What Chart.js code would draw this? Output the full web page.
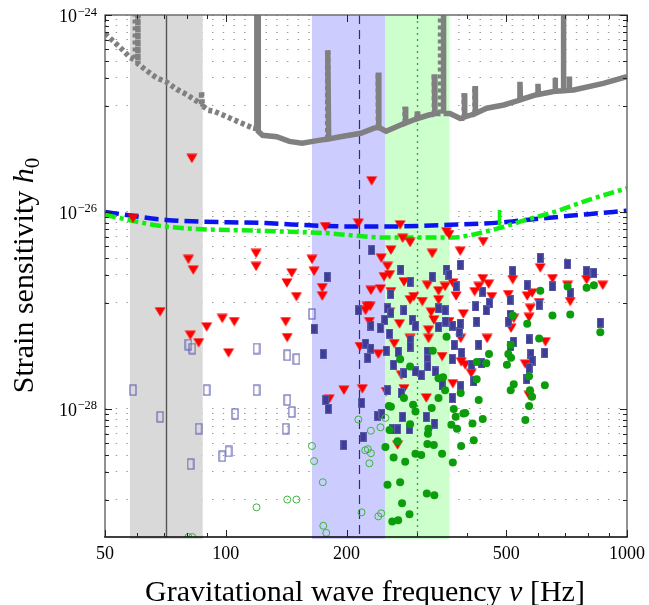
<!DOCTYPE html>
<html>
<head>
<meta charset="utf-8">
<script src="https://cdn.jsdelivr.net/npm/chart.js@4.4.0/dist/chart.umd.min.js"></script>
<style>
  html, body { margin: 0; padding: 0; background: #fff; }
  #c { display: block; }
</style>
</head>
<body>
<canvas id="c" width="649" height="605" style="width:649px;height:605px"></canvas>
<script>
// Strain upper limits for known pulsars against detector sensitivity

const xMajorTicks = [50, 100, 200, 500, 1000];
const xMinorTicks = [60, 70, 80, 90, 300, 400, 600, 700, 800, 900];
const yMajorTicks = [1e-24, 1e-26, 1e-28];
const yMajorLabels = ["\u221224", "\u221226", "\u221228"];
const yMinorTicks = [
  8.9e-25, 7.8e-25, 6.7e-25, 5.6e-25, 4.5e-25, 3.4e-25, 2.3e-25, 1.2e-25,
  8.9e-27, 7.8e-27, 6.7e-27, 5.6e-27, 4.5e-27, 3.4e-27, 2.3e-27, 1.2e-27,
  8.9e-29, 7.8e-29, 6.7e-29, 5.6e-29, 4.5e-29, 3.4e-29, 2.3e-29, 1.2e-29
];

// shaded frequency bands [lo, hi] in Hz and the marker lines inside them
const bandRanges = [[57.7, 87.6], [164, 250], [250, 361]];
const bandLines = [71, 215, 300];

// detector noise curve (gray), with spectral line spikes
const sensitivity = [
  [50, 6.5e-25], [52.5, 5.4e-25], [55.4, 4.4e-25], [57.7, 3.7e-25], [59.4, 3.5e-25],
  [59.5, 1.5e-24], [60.3, 1.5e-24], [60.4, 3.2e-25], [61, 3.1e-25], [64, 2.66e-25],
  [67.2, 2.3e-25], [71, 2.1e-25], [75.5, 1.76e-25], [80, 1.55e-25], [86.2, 1.27e-25],
  [87, 1.25e-25], [87, 1.67e-25], [87.4, 1.2e-25], [90.4, 1.08e-25], [93.6, 1.05e-25],
  [103, 8.9e-26], [112.5, 7.6e-26], [117, 7.1e-26], [119.5, 7.0e-26], [119.5, 1.5e-24],
  [120.5, 1.5e-24], [120.5, 6.6e-26], [123.5, 6.0e-26], [134, 5.8e-26], [144, 5.2e-26],
  [155, 5.0e-26], [169, 5.3e-26], [179.5, 5.5e-26], [179.5, 4.4e-25], [180.5, 5.5e-26],
  [193, 5.8e-26], [217, 6.3e-26], [234, 7.1e-26], [240, 7.2e-26], [240, 2.6e-25],
  [240.7, 7.2e-26], [251, 6.6e-26], [278, 7.9e-26], [280, 8.0e-26], [280, 1.17e-25],
  [280.8, 8.0e-26], [300, 8.9e-26], [300, 1.05e-25], [300.8, 8.9e-26], [322, 9.7e-26],
  [331, 9.8e-26], [331, 2.5e-25], [332, 1.0e-25], [343, 1.0e-25], [343, 1.5e-24],
  [349, 1.5e-24], [349, 1.0e-25], [362, 1.0e-25], [384, 8.9e-26], [393, 9.0e-26],
  [393, 1.6e-25], [394, 9.2e-26], [410, 9.7e-26], [418, 1.0e-25], [418, 1.9e-25],
  [419, 1.0e-25], [447, 1.13e-25], [493, 1.22e-25], [541, 1.37e-25], [541, 2.1e-25],
  [542.5, 1.38e-25], [595, 1.55e-25], [600, 1.56e-25], [600, 2.0e-25], [601.5, 1.56e-25],
  [656, 1.67e-25], [662, 1.68e-25], [662, 2.3e-25], [663.5, 1.68e-25], [693, 1.7e-25],
  [693, 1.5e-24], [696, 1.5e-24], [696, 1.7e-25], [718, 1.72e-25], [718, 2.37e-25],
  [719.5, 1.72e-25], [736, 1.73e-25], [873, 2.02e-25], [1000, 2.37e-25]
];

// projected sensitivity curves
const blueCurve = [
  [50, 1.0e-26], [71, 8.3e-27], [126, 7.7e-27], [177, 7.2e-27], [250, 7.1e-27],
  [362, 7.4e-27], [480, 7.8e-27], [560, 8.3e-27], [800, 9.5e-27], [1000, 1.03e-26]
];
const greenCurve = [
  [50, 9.3e-27], [71, 7.1e-27], [126, 6.4e-27], [177, 6.1e-27], [250, 5.5e-27],
  [362, 5.5e-27], [470, 6.7e-27], [560, 8.3e-27], [660, 1.0e-26], [800, 1.32e-26],
  [1000, 1.74e-26]
];
const greenGlitch = [[481, 7.3e-27], [481, 1.05e-26]];

// pulsar results
const redTriangles = [
  [82.3, 3.5e-26], [231, 2.07e-26], [58.7, 8.6e-27], [80.7, 3.3e-27], [83, 2.57e-27],
  [119, 3.8e-27], [119, 2.8e-27], [146, 2.4e-27], [142, 1.9e-27], [164, 3.3e-27],
  [166, 2.5e-27], [177, 7.1e-27], [150, 1.38e-27], [174, 1.7e-27], [174, 1.4e-27],
  [68.6, 9.7e-28], [81.6, 5.6e-28], [85.6, 4.7e-28], [89.6, 6.8e-28], [98, 8.3e-28],
  [105, 7.7e-28], [101.6, 3.7e-28], [141, 7.7e-28], [142.3, 5.3e-28],
  [214, 7.7e-27], [272, 7.4e-27], [355, 6.3e-27], [360, 5.9e-27], [276, 5.4e-27],
  [288, 4.9e-27], [258, 4.1e-27], [327, 3.8e-27], [384, 4.0e-27], [244, 3.4e-27],
  [253, 2.8e-27], [256, 2.3e-27], [248, 2.2e-27], [278, 1.95e-27], [318, 1.8e-27],
  [339, 1.58e-27], [352, 1.75e-27], [368, 1.9e-27], [375, 1.4e-27], [230, 1.6e-27],
  [243, 1.65e-27], [258, 1.55e-27], [294, 1.38e-27], [309, 1.23e-27], [288, 1.28e-27],
  [339, 1.28e-27], [225, 1.1e-27], [229, 1.1e-27], [223, 1.0e-27], [325, 9.6e-28],
  [256, 9.6e-28], [330, 8.0e-28], [271, 7.3e-28], [228, 7.7e-28], [320, 6.3e-28],
  [360, 7.7e-28], [385, 5.2e-28], [320, 5.2e-28], [288, 5.2e-28], [263, 4.6e-28],
  [216, 4.3e-28], [240, 3.6e-28], [346, 3.4e-28], [274, 2.2e-28], [386, 3.0e-28],
  [438, 5.0e-27], [608, 2.7e-27], [519, 2.05e-27], [652, 2.1e-27], [711, 1.8e-27],
  [793, 2.05e-27], [870, 1.8e-27], [437, 2.1e-27], [452, 1.85e-27], [417, 1.55e-27],
  [427, 1.75e-27], [460, 1.38e-27], [506, 1.45e-27], [564, 1.4e-27], [580, 1.5e-27],
  [604, 1.2e-27], [722, 1.23e-27], [574, 1.05e-27], [570, 8.5e-28], [522, 8.3e-28],
  [514, 6.6e-28], [448, 5.2e-28], [626, 4.8e-28], [391, 9.2e-28], [395, 2.8e-28],
  [409, 2.3e-28], [558, 2.85e-28],
  [197, 1.55e-28], [219, 1.6e-28], [181, 1.26e-28], [251, 1.5e-28], [278, 1.6e-28],
  [316, 1.29e-28], [368, 1.8e-28], [268, 4.3e-29], [570, 1.37e-28]
];

const filledSquares = [
  [231, 4.1e-27], [179, 2.2e-27], [273, 2.6e-27], [327, 2.2e-27], [355, 2.6e-27],
  [360, 2.3e-27], [375, 1.75e-27], [384, 2.9e-27], [288, 1.95e-27], [258, 1.47e-27],
  [214, 1.0e-27], [253, 1.05e-27], [258, 9.5e-28], [278, 1.0e-27], [339, 1.05e-27],
  [352, 1.0e-27], [249, 8.0e-28], [292, 8.0e-28], [297, 7.0e-28], [230, 7.0e-28],
  [243, 6.6e-28], [256, 5.8e-28], [339, 6.8e-28], [353, 7.7e-28], [368, 7.0e-28],
  [382, 6.0e-28], [166, 6.5e-28], [288, 5.0e-28], [288, 4.3e-28], [223, 4.6e-28],
  [230, 4.1e-28], [226, 3.3e-28], [251, 3.9e-28], [269, 3.8e-28], [318, 3.8e-28],
  [318, 3.2e-28], [262, 2.8e-28], [278, 2.3e-28], [297, 2.4e-28], [307, 2.2e-28],
  [319, 2.7e-28], [333, 2.4e-28], [367, 3.2e-28], [387, 3.7e-28], [175, 3.6e-28],
  [371, 4.45e-28], [384, 7.3e-28],
  [608, 3.4e-27], [711, 2.95e-27], [793, 2.5e-27], [827, 2.4e-27], [519, 2.5e-27],
  [564, 1.8e-27], [652, 1.75e-27], [722, 1.5e-27], [437, 1.55e-27], [511, 1.28e-27],
  [454, 1.18e-27], [420, 1.1e-27], [446, 1.0e-27], [604, 1.14e-27], [511, 9.0e-28],
  [507, 7.7e-28], [422, 7.7e-28], [858, 7.5e-28], [570, 5.1e-28], [521, 4.8e-28],
  [513, 4.35e-28], [427, 4.5e-28], [624, 3.7e-28], [576, 3.6e-28], [580, 3.1e-28],
  [434, 2.9e-28], [410, 2.8e-28], [570, 2.6e-28], [563, 2.0e-28],
  [177.5, 1.23e-28], [180, 1.0e-28], [218, 1.15e-28], [239, 8.5e-29], [245, 8.9e-29],
  [220, 5.2e-29], [197, 4.3e-29], [260, 6.2e-29], [268, 6.2e-29], [276, 8.3e-29],
  [287, 6.2e-29], [316, 8.3e-29], [331, 7.1e-29], [253, 1.55e-28], [274, 1.45e-28],
  [346, 1.74e-28], [367, 1.29e-28], [385, 1.7e-28], [415, 1.9e-28]
];

const openSquares = [
  [80.7, 4.5e-28], [82.5, 4.1e-28], [119.3, 4.1e-28], [142.3, 3.5e-28], [150, 3.2e-28],
  [164, 9.2e-28], [58.7, 1.55e-28], [89.6, 1.55e-28], [119.3, 1.55e-28], [142.3, 1.23e-28],
  [146, 9.3e-29], [68.6, 8.3e-29], [105.5, 8.9e-29], [85.6, 6.3e-29], [141, 6.3e-29],
  [101.6, 3.7e-29], [98, 3.3e-29], [81.7, 2.75e-29]
];

const filledCircles = [
  [608, 1.58e-27], [711, 1.75e-27], [793, 1.7e-27], [827, 1.8e-27], [652, 8.9e-28],
  [722, 9.1e-28], [858, 6.0e-28], [564, 7.3e-28], [519, 8.9e-28], [604, 5.2e-28],
  [513, 4.45e-28], [453, 3.6e-28], [506, 3.6e-28], [514, 3.3e-28], [502, 2.8e-28],
  [422, 3.0e-28], [446, 2.9e-28], [570, 2.15e-28],
  [272, 3.2e-28], [288, 2.7e-28], [328, 3.9e-28], [355, 5.4e-28], [348, 2.1e-28],
  [339, 2.05e-28],
  [278, 1.29e-28], [255, 1.07e-28], [258, 1.05e-28], [293, 1.1e-28], [297, 9.4e-29],
  [326, 1.02e-28], [339, 1.29e-28], [352, 1.55e-28], [370, 1.0e-28], [374, 8.3e-29],
  [377, 6.3e-29], [391, 9.0e-29], [365, 6.9e-29], [256, 6.1e-29], [288, 7.0e-29],
  [320, 6.3e-29], [319, 5.6e-29], [250, 4.1e-29], [268, 4.7e-29], [318, 4.4e-29],
  [330, 4.3e-29], [297, 3.5e-29], [307, 3.4e-29], [346, 3.5e-29], [262, 3.2e-29],
  [280, 2.9e-29], [368, 2.85e-29], [386, 4.2e-29], [253, 1.7e-29], [272, 1.8e-29],
  [317, 1.38e-29], [331, 1.33e-29], [275, 1.1e-29], [287, 8.5e-30], [260, 7.2e-30],
  [269, 7.4e-30],
  [422, 2.0e-28], [522, 1.78e-28], [513, 1.55e-28], [624, 1.74e-28], [573, 1.55e-28],
  [580, 1.33e-28], [570, 1.07e-28], [427, 1.23e-28], [385, 1.45e-28], [395, 9.1e-29],
  [437, 7.9e-29], [412, 7.1e-29], [558, 7.7e-29], [415, 4.8e-29]
];

const openCircles = [
  [164, 4.2e-29], [166, 2.95e-29], [174.5, 1.8e-29], [142.3, 1.2e-29], [150, 1.2e-29],
  [119.3, 1.0e-29], [175, 6.5e-30], [178, 5.5e-30], [80.7, 5.0e-30], [82.5, 5.0e-30],
  [214, 7.8e-29], [230, 6.0e-29], [243, 6.5e-29], [250, 8.1e-29], [222.6, 3.8e-29],
  [226, 3.9e-29], [230, 3.55e-29], [228, 2.8e-29], [218, 8.9e-30], [240, 8.1e-30],
  [244, 8.7e-30]
];

// ---- styles ----
const SERIF = "'Liberation Serif', 'Times New Roman', serif";
const bandColors = ["#d9d9d9", "#ccccff", "#ccffcc"];
const bandLineStyles = [
  { color: "#555555", width: 1.4, dash: [] },
  { color: "#2e2e80", width: 1.2, dash: [9, 6] },
  { color: "#3aa83a", width: 1.4, dash: [2, 4] }
];

function markerCanvas(w, h, paint) {
  const c = document.createElement("canvas");
  c.width = w;
  c.height = h;
  paint(c.getContext("2d"), w, h);
  return c;
}

const triMark = markerCanvas(12, 10, (g, w, h) => {
  g.fillStyle = "#ff0000";
  g.beginPath();
  g.moveTo(0.5, 0.5);
  g.lineTo(w - 0.5, 0.5);
  g.lineTo(w / 2, h - 0.3);
  g.closePath();
  g.fill();
});
const squareMark = markerCanvas(7, 10, (g, w, h) => {
  g.fillStyle = "#3d3d96";
  g.fillRect(0, 0, w, h);
  g.strokeStyle = "#5c5cab";
  g.lineWidth = 1;
  g.strokeRect(0.5, 0.5, w - 1, h - 1);
});
const openSquareMark = markerCanvas(8, 12, (g, w, h) => {
  g.strokeStyle = "#6a6ab2";
  g.lineWidth = 1.2;
  g.strokeRect(1, 1, w - 2, h - 2);
});

const toXY = pts => pts.map(([x, y]) => ({ x, y }));

function scatterSet(pts, extra) {
  return Object.assign({
    type: "scatter",
    data: toXY(pts),
    pointRadius: 5,
    pointHoverRadius: 5,
    borderWidth: 0
  }, extra);
}

const decor = {
  id: "decor",
  beforeDatasetsDraw(chart) {
    const { ctx, chartArea: a, scales: { x } } = chart;
    ctx.save();
    bandRanges.forEach(([lo, hi], i) => {
      const x0 = x.getPixelForValue(lo);
      const x1 = x.getPixelForValue(hi);
      ctx.fillStyle = bandColors[i];
      ctx.fillRect(x0, a.top, x1 - x0, a.bottom - a.top + 2);
    });
    bandLines.forEach((f, i) => {
      const s = bandLineStyles[i];
      const px = Math.round(x.getPixelForValue(f)) + 0.5;
      ctx.beginPath();
      ctx.strokeStyle = s.color;
      ctx.lineWidth = s.width;
      ctx.setLineDash(s.dash);
      ctx.moveTo(px, a.top);
      ctx.lineTo(px, a.bottom);
      ctx.stroke();
    });
    ctx.restore();
  },
  afterDraw(chart) {
    const { ctx, chartArea: a, scales: { x, y } } = chart;
    ctx.save();

    // frame
    ctx.lineWidth = 1.5;
    ctx.strokeStyle = "#6e6e6e";
    ctx.beginPath();
    ctx.moveTo(a.left, a.bottom);
    ctx.lineTo(a.left, a.top);
    ctx.lineTo(a.right, a.top);
    ctx.lineTo(a.right, a.bottom);
    ctx.stroke();
    ctx.strokeStyle = "#000";
    ctx.beginPath();
    ctx.moveTo(a.left - 0.75, a.bottom);
    ctx.lineTo(a.right + 0.75, a.bottom);
    ctx.stroke();

    // inward ticks
    ctx.lineWidth = 1;
    ctx.strokeStyle = "#222";
    const xt = [...xMajorTicks.map(v => [v, 7]), ...xMinorTicks.map(v => [v, 4])];
    xt.forEach(([v, len]) => {
      const px = Math.round(x.getPixelForValue(v)) + 0.5;
      ctx.beginPath();
      ctx.moveTo(px, a.bottom);
      ctx.lineTo(px, a.bottom - len);
      ctx.moveTo(px, a.top);
      ctx.lineTo(px, a.top + len);
      ctx.stroke();
    });
    const yt = [...yMajorTicks.map(v => [v, 7]), ...yMinorTicks.map(v => [v, 4])];
    yt.forEach(([v, len]) => {
      const py = Math.round(y.getPixelForValue(v)) + 0.5;
      ctx.beginPath();
      ctx.moveTo(a.left, py);
      ctx.lineTo(a.left + len, py);
      ctx.moveTo(a.right, py);
      ctx.lineTo(a.right - len, py);
      ctx.stroke();
    });

    // tick labels
    ctx.fillStyle = "#000";
    ctx.font = "18px " + SERIF;
    ctx.textAlign = "center";
    ctx.textBaseline = "alphabetic";
    xMajorTicks.forEach(v => {
      ctx.fillText(String(v), x.getPixelForValue(v), a.bottom + 22);
    });
    yMajorTicks.forEach((v, i) => {
      const py = y.getPixelForValue(v);
      ctx.textAlign = "right";
      ctx.font = "12.5px " + SERIF;
      const supW = ctx.measureText(yMajorLabels[i]).width;
      const right = a.left - 8;
      ctx.fillText(yMajorLabels[i], right, py + 0.5);
      ctx.font = "18px " + SERIF;
      ctx.fillText("10", right - supW - 0.5, py + 7);
    });

    // axis titles
    const drawParts = (parts, cx, cy) => {
      let total = 0;
      parts.forEach(p => { ctx.font = p.font; p.w = ctx.measureText(p.text).width; total += p.w; });
      let cur = cx - total / 2;
      ctx.textAlign = "left";
      parts.forEach(p => {
        ctx.font = p.font;
        ctx.fillText(p.text, cur, cy + (p.dy || 0));
        cur += p.w;
      });
    };
    drawParts([
      { text: "Gravitational wave frequency ", font: "30px " + SERIF },
      { text: "\u03BD", font: "italic 30px " + SERIF },
      { text: " [Hz]", font: "30px " + SERIF }
    ], 365, 601);

    ctx.save();
    ctx.translate(33, 275.5);
    ctx.rotate(-Math.PI / 2);
    drawParts([
      { text: "Strain sensitivity ", font: "30px " + SERIF },
      { text: "h", font: "italic 30px " + SERIF },
      { text: "0", font: "21px " + SERIF, dy: 6 }
    ], 0, 0);
    ctx.restore();

    ctx.restore();
  }
};

new Chart(document.getElementById("c"), {
  type: "scatter",
  data: {
    datasets: [
      scatterSet(filledCircles, { pointStyle: "circle", pointRadius: 4, backgroundColor: "#0b9d0b", borderWidth: 0 }),
      scatterSet(openCircles, { pointStyle: "circle", pointRadius: 3.5, backgroundColor: "rgba(0,0,0,0)", borderColor: "#3cb43c", borderWidth: 1 }),
      scatterSet(filledSquares, { pointStyle: squareMark }),
      scatterSet(openSquares, { pointStyle: openSquareMark }),
      scatterSet(redTriangles, { pointStyle: triMark }),
      {
        type: "line", data: toXY(greenGlitch), borderColor: "#11ee11", borderWidth: 3.5,
        pointRadius: 0, fill: false
      },
      {
        type: "line", data: toXY(greenCurve), borderColor: "#11ee11", borderWidth: 4.5,
        borderDash: [11, 4, 4, 4], pointRadius: 0, fill: false, cubicInterpolationMode: "monotone"
      },
      {
        type: "line", data: toXY(blueCurve), borderColor: "#0a14f0", borderWidth: 4.5,
        borderDash: [14, 6], pointRadius: 0, fill: false, cubicInterpolationMode: "monotone"
      },
      {
        type: "line", data: toXY(sensitivity), borderColor: "#808080", borderWidth: 5.5,
        pointRadius: 0, fill: false, tension: 0, borderJoinStyle: "miter",
        segment: {
          borderDash: c => {
            const x0 = c.p0.parsed.x, x1 = c.p1.parsed.x;
            if (x1 < 118) return [4, 3];
            if (x0 === x1 && x0 > 150 && x0 < 500) return [4, 3];
            return undefined;
          }
        }
      }
    ]
  },
  options: {
    responsive: false,
    animation: false,
    devicePixelRatio: 1,
    layout: { padding: { left: 105, right: 22, top: 15, bottom: 68 } },
    plugins: { legend: { display: false }, tooltip: { enabled: false } },
    scales: {
      x: {
        type: "logarithmic",
        min: 50,
        max: 1000,
        ticks: { display: false },
        grid: { display: false, drawTicks: false },
        border: { display: false }
      },
      y: {
        type: "logarithmic",
        min: 5.02e-30,
        max: 1e-24,
        afterBuildTicks: s => {
          s.ticks = [...yMajorTicks, ...yMinorTicks].map(value => ({ value }));
        },
        ticks: { display: false },
        grid: { color: "#9a9a9a", lineWidth: 1, drawTicks: false },
        border: { display: false, dash: [1.5, 9.2] }
      }
    }
  },
  plugins: [decor]
});
</script>
</body>
</html>
